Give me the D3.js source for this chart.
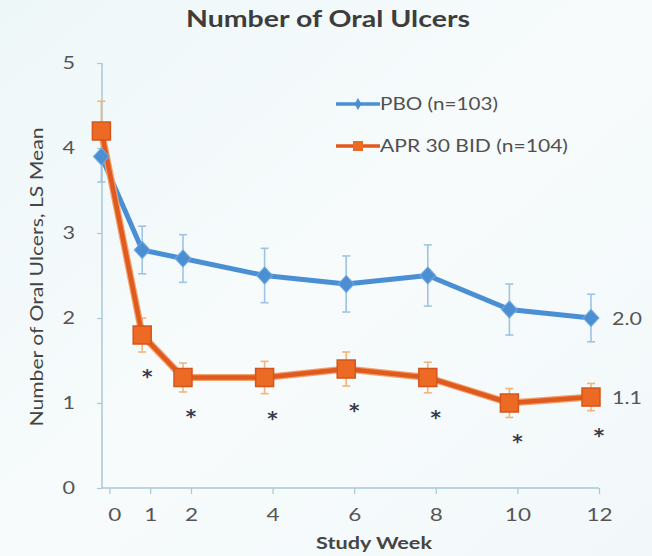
<!DOCTYPE html>
<html><head><meta charset="utf-8">
<script src="https://cdn.jsdelivr.net/npm/d3@7"></script>
<style>html,body{margin:0;padding:0;background:#f5fafb;}</style>
</head><body>
<svg id="c" width="652" height="556"></svg>
<script>
const weeks = [0, 1, 2, 4, 6, 8, 10, 12];
const pbo = [3.9, 2.8, 2.7, 2.5, 2.4, 2.5, 2.1, 2.0];
const pboErr = [0.3, 0.28, 0.28, 0.32, 0.33, 0.36, 0.3, 0.28];
const apr = [4.2, 1.8, 1.3, 1.3, 1.4, 1.3, 1.0, 1.07];
const aprErr = [0.35, 0.2, 0.17, 0.19, 0.2, 0.18, 0.17, 0.16];
const starWeeks = [1, 2, 4, 6, 8, 10, 12];
const xTicks = [0, 1, 2, 4, 6, 8, 10, 12];
const yTicks = [0, 1, 2, 3, 4, 5];
const endLabels = ["2.0", "1.1"];
const seriesNames = ["PBO (n=103)", "APR 30 BID (n=104)"];

const svg = d3.select("#c");
const defs = svg.append("defs");
const g0 = defs.append("linearGradient").attr("id","bg").attr("x1","0").attr("y1","0").attr("x2","1").attr("y2","1");
g0.append("stop").attr("offset","0").attr("stop-color","#eef7f8");
g0.append("stop").attr("offset","0.5").attr("stop-color","#f7fbfc");
g0.append("stop").attr("offset","1").attr("stop-color","#f2f8fa");
svg.append("rect").attr("width",652).attr("height",556).attr("fill","url(#bg)");

const x = d3.scaleLinear().domain([2, 12]).range([191, 599]);
const y = d3.scaleLinear().domain([0, 5]).range([488, 63]);
const font = "Lato, 'Open Sans', sans-serif";
const dataShift = -8;

// widen text horizontally (reference is a wide-stretched photo)
function widen(sel, k) {
  sel.each(function() {
    const w = this.getComputedTextLength();
    d3.select(this).attr("textLength", w * k).attr("lengthAdjust", "spacingAndGlyphs");
  });
}

// title
svg.append("text").attr("x", 328).attr("y", 27).attr("text-anchor","middle")
  .attr("font-family", font).attr("font-weight","bold").attr("font-size", 22)
  .attr("fill","#3d3d3d").text("Number of Oral Ulcers")
  .attr("textLength", 284).attr("lengthAdjust","spacingAndGlyphs");

// axes
const axisColor = "#a9c9d6";
const yAxis = svg.append("g").attr("transform","translate(102,0)")
  .call(d3.axisLeft(y).tickValues(yTicks).tickSize(5).tickFormat(d3.format("d")));
const xAxis = svg.append("g").attr("transform","translate(0,488)")
  .call(d3.axisBottom(x).tickValues(xTicks).tickSize(6).tickFormat(d3.format("d")));
[yAxis, xAxis].forEach(a => {
  a.select(".domain").remove();
  a.selectAll(".tick line").attr("stroke", axisColor).attr("stroke-width",1.2);
  a.selectAll(".tick text").attr("font-family", font).attr("font-size", 18).attr("fill","#555");
});
yAxis.selectAll(".tick text").attr("x", -27);
xAxis.selectAll(".tick text").attr("y", 20);
xAxis.selectAll(".tick").filter(d => d === 0).select("text").attr("dx", 5);
widen(yAxis.selectAll(".tick text"), 1.2);
widen(xAxis.selectAll(".tick text"), 1.25);
svg.append("line").attr("x1",102).attr("x2",102).attr("y1",y(5)).attr("y2",y(0))
  .attr("stroke",axisColor).attr("stroke-width",1.5);
svg.append("line").attr("x1",102).attr("x2",x(12)).attr("y1",y(0)).attr("y2",y(0))
  .attr("stroke",axisColor).attr("stroke-width",1.5);

// axis titles
svg.append("text").attr("transform","translate(43,277) rotate(-90)").attr("text-anchor","middle")
  .attr("font-family", font).attr("font-size", 17).attr("fill","#454545").text("Number of Oral Ulcers, LS Mean")
  .attr("textLength", 299).attr("lengthAdjust","spacingAndGlyphs");
svg.append("text").attr("x", 374).attr("y", 549).attr("text-anchor","middle")
  .attr("font-family", font).attr("font-weight","bold").attr("font-size", 17).attr("fill","#454545").text("Study Week")
  .attr("textLength", 116).attr("lengthAdjust","spacingAndGlyphs");

const blue = "#4a8fd3", blueErr = "#9fc4e3";
const orange = "#e0591f", orangeFill = "#ec6a24", orangeErr = "#f1b57a";

const plot = svg.append("g").attr("transform", `translate(${dataShift},0)`);

function errBars(vals, errs, color) {
  const gg = plot.append("g").attr("stroke", color).attr("stroke-width", 1.6);
  weeks.forEach((w, i) => {
    const cx = x(w), t = y(vals[i] + errs[i]), b = y(vals[i] - errs[i]);
    gg.append("line").attr("x1",cx).attr("x2",cx).attr("y1",t).attr("y2",b);
    gg.append("line").attr("x1",cx-4).attr("x2",cx+4).attr("y1",t).attr("y2",t);
    gg.append("line").attr("x1",cx-4).attr("x2",cx+4).attr("y1",b).attr("y2",b);
  });
}
errBars(pbo, pboErr, blueErr);
errBars(apr, aprErr, orangeErr);

const line = d3.line().x((d,i) => x(weeks[i])).y(d => y(d));
plot.append("path").datum(pbo).attr("d", line).attr("fill","none").attr("stroke", blue).attr("stroke-width", 5).attr("stroke-linejoin","round");
plot.append("path").datum(apr).attr("d", line).attr("fill","none").attr("stroke", "#f2a06a").attr("stroke-width", 7).attr("stroke-linejoin","round");
plot.append("path").datum(apr).attr("d", line).attr("fill","none").attr("stroke", orange).attr("stroke-width", 4.5).attr("stroke-linejoin","round");

const diamond = d3.symbol().type(d3.symbolDiamond).size(84);
plot.selectAll(".dm").data(pbo).join("path").attr("class","dm")
  .attr("d", diamond).attr("transform",(d,i)=>`translate(${x(weeks[i])},${y(d)}) scale(1.6,1)`)
  .attr("fill", blue).attr("stroke","#6fa6dc").attr("stroke-width",0.8);
plot.selectAll(".sq").data(apr).join("rect").attr("class","sq")
  .attr("x",(d,i)=>x(weeks[i])-9).attr("y",d=>y(d)-9).attr("width",18).attr("height",18)
  .attr("fill", orangeFill).attr("stroke","#d5561c").attr("stroke-width",1.5);

// asterisks
svg.selectAll(".star").data(starWeeks).join("text").attr("class","star")
  .attr("x", w => x(w) - (w === 1 ? 3 : 0))
  .attr("y", w => { const i = weeks.indexOf(w); return y(apr[i] - aprErr[i]) + 31; })
  .attr("text-anchor","middle").attr("font-family","DejaVu Sans, sans-serif").attr("font-size",20)
  .attr("font-weight","bold").attr("fill","#3a3a4a").text("*");

// end labels
[pbo, apr].forEach((s, k) => {
  svg.append("text").attr("x", x(12) + 13).attr("y", y(s[s.length-1]) + 7)
    .attr("font-family", font).attr("font-size", 18).attr("fill","#555").text(endLabels[k])
    .attr("textLength", 30).attr("lengthAdjust","spacingAndGlyphs");
});

// legend
const leg = svg.append("g");
const legItems = [
  {name: seriesNames[0], color: blue, y: 104, mark: "d", len: 118},
  {name: seriesNames[1], color: orange, y: 146, mark: "s", len: 188}
];
legItems.forEach(it => {
  leg.append("line").attr("x1",336).attr("x2",380).attr("y1",it.y).attr("y2",it.y)
    .attr("stroke", it.color).attr("stroke-width", 3.5);
  if (it.mark === "d") {
    leg.append("path").attr("d", d3.symbol().type(d3.symbolDiamond).size(40)())
      .attr("transform",`translate(358,${it.y})`).attr("fill", it.color);
  } else {
    leg.append("rect").attr("x",353).attr("y",it.y-5).attr("width",10).attr("height",10).attr("fill", orangeFill);
  }
  leg.append("text").attr("x", 380).attr("y", it.y + 6).attr("font-family", font)
    .attr("font-size", 17).attr("fill","#505050").text(it.name)
    .attr("textLength", it.len).attr("lengthAdjust","spacingAndGlyphs");
});
</script>
</body></html>
